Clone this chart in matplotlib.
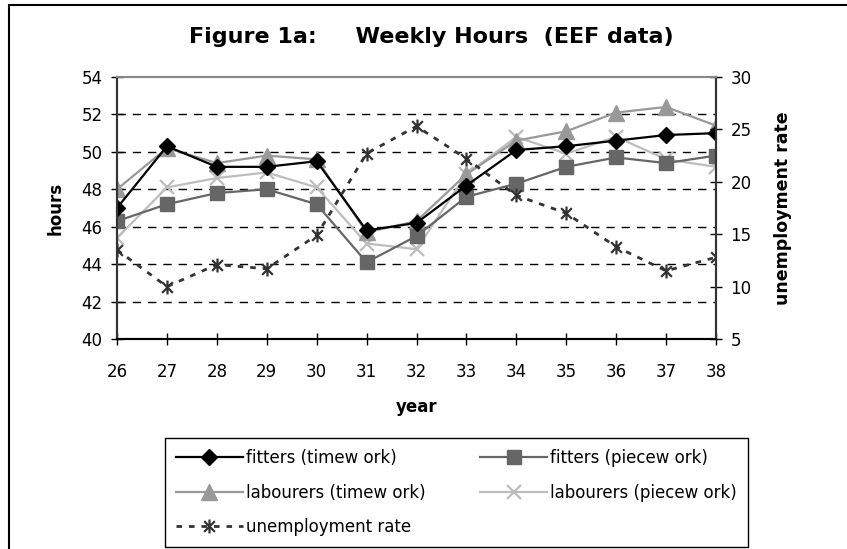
import matplotlib.pyplot as plt
import numpy as np
from matplotlib.path import Path
from matplotlib.patches import Rectangle

plt.rcParams['font.family'] = ['DejaVu Sans']

# ----- data -----
years = [26, 27, 28, 29, 30, 31, 32, 33, 34, 35, 36, 37, 38]
year_labels = [str(y) for y in years]

fitters_time = [47.0, 50.3, 49.2, 49.2, 49.5, 45.8, 46.2, 48.2, 50.1, 50.3, 50.6, 50.9, 51.0]
fitters_piece = [46.3, 47.2, 47.8, 48.0, 47.2, 44.1, 45.5, 47.6, 48.3, 49.2, 49.7, 49.4, 49.8]
labourers_time = [48.0, 50.2, 49.4, 49.8, 49.6, 45.7, 46.3, 48.8, 50.6, 51.1, 52.1, 52.4, 51.4]
labourers_piece = [45.4, 48.1, 48.6, 48.9, 48.1, 45.1, 44.8, 48.8, 50.8, 49.9, 50.8, 49.6, 49.2]
unemployment = [13.5, 10.0, 12.1, 11.7, 14.9, 22.7, 25.3, 22.2, 18.7, 17.0, 13.8, 11.5, 12.8]

hour_ticks = [40, 42, 44, 46, 48, 50, 52, 54]
rate_ticks = [5, 10, 15, 20, 25, 30]

# star marker like the excel one: an X with a vertical bar
star = Path([(-1, -1), (1, 1), (-1, 1), (1, -1), (0, -1.3), (0, 1.3)],
            [Path.MOVETO, Path.LINETO, Path.MOVETO, Path.LINETO, Path.MOVETO, Path.LINETO])

fig = plt.figure(figsize=(8.47, 5.49), dpi=100)
ax = fig.add_axes([117 / 847, 1 - 339 / 549, (716 - 117) / 847, (339 - 77) / 549])
ax2 = ax.twinx()

l1, = ax.plot(years, fitters_time, color='#000000', lw=1.6, marker='D', ms=8,
              label='fitters (timew ork)', zorder=5)
l2, = ax.plot(years, fitters_piece, color='#666666', lw=1.6, marker='s', ms=10,
              label='fitters (piecew ork)', zorder=4)
l3, = ax.plot(years, labourers_time, color='#999999', lw=1.6, marker='^', ms=11,
              label='labourers (timew ork)', zorder=3)
l4, = ax.plot(years, labourers_piece, color='#bdbdbd', lw=1.6, marker='x', ms=10, mew=1.6,
              label='labourers (piecew ork)', zorder=2)
l5, = ax2.plot(years, unemployment, color='#333333', lw=2, ls=(0, (2, 2.5)), marker=star,
               ms=10, mew=1.6, label='unemployment rate')

ax.set_xlim(26, 38)
ax.set_ylim(40, 54)
ax2.set_ylim(5, 30)
ax.set_xticks(years)
ax.set_xticklabels(year_labels)
ax.set_yticks(hour_ticks)
ax2.set_yticks(rate_ticks)

for y in hour_ticks[1:-1]:
    ax.axhline(y, color='black', lw=1, ls=(0, (6, 5)), zorder=0)

for a in (ax, ax2):
    a.tick_params(direction='inout', length=9, width=1, labelsize=12, pad=6)
    a.spines['top'].set_color('#888888')
    a.spines['top'].set_linewidth(1.5)
    a.spines['left'].set_linewidth(1.5)
    a.spines['right'].set_linewidth(1.5)
    a.spines['bottom'].set_linewidth(1.5)
    a.spines['left'].set_color('#333333')
    a.spines['right'].set_color('#333333')
ax.tick_params(axis='x', pad=13)

ax.set_xlabel('year', fontsize=12, fontweight='bold', labelpad=12)
ax.set_ylabel('hours', fontsize=12, fontweight='bold', labelpad=12)
ax2.set_ylabel('unemployment rate', fontsize=12.5, fontweight='bold', labelpad=16)

fig.text(431 / 847, 1 - 37 / 549, 'Figure 1a:     Weekly Hours  (EEF data)',
         ha='center', va='center', fontsize=16, fontweight='bold')

# excel fills the legend row by row, matplotlib column by column
leg = fig.legend(handles=[l1, l3, l5, l2, l4], ncol=2, loc='upper left',
                 bbox_to_anchor=(165 / 847, 1 - 438 / 549, (748 - 165) / 847, 0),
                 mode='expand', borderaxespad=0, fancybox=False, edgecolor='black',
                 framealpha=1, handlelength=4.0, handletextpad=0.2, labelspacing=1.0,
                 borderpad=0.65, fontsize=12)
leg.get_frame().set_linewidth(1)

fig.add_artist(Rectangle((9 / 847, -0.1), 1.2, 1 - 5 / 549 + 0.1, transform=fig.transFigure,
                         fill=False, lw=1.5, edgecolor='black'))

fig.savefig('out.png', dpi=100)
